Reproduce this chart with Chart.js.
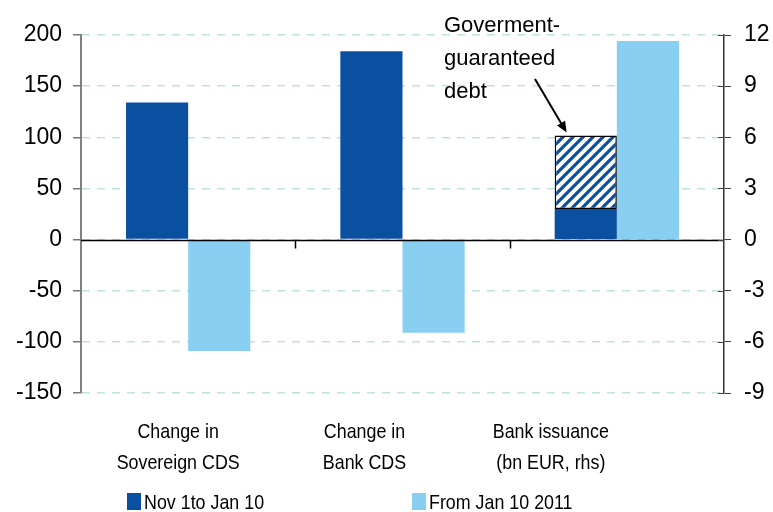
<!DOCTYPE html>
<html>
<head>
<meta charset="utf-8">
<script src="https://cdn.jsdelivr.net/npm/chart.js@4.4.1/dist/chart.umd.min.js"></script>
<style>
  html, body { margin: 0; padding: 0; background: #fff; }
</style>
</head>
<body>
<canvas id="myChart" width="773" height="512"></canvas>
<script>
// data
const categories = [['Change in', 'Sovereign CDS'], ['Change in', 'Bank CDS'], ['Bank issuance', '(bn EUR, rhs)']];
const seriesNames = ['Nov 1to Jan 10', 'From Jan 10 2011'];
const earlyCds = [134, 184, null];          // lhs
const lateCds = [-109, -91, null];          // lhs
const earlyIssuance = [null, null, 1.8];    // rhs
const guaranteedIssuance = [null, null, 4.3]; // rhs, stacked on top of earlyIssuance
const lateIssuance = [null, null, 11.65];   // rhs
const leftTicks = [-150, -100, -50, 0, 50, 100, 150, 200];
const rightTicks = [-9, -6, -3, 0, 3, 6, 9, 12];
const noteLines = ['Goverment-', 'guaranteed', 'debt'];

const darkBlue = '#0b4fa1';
const lightBlue = '#89cff1';
const plainFont = "'Liberation Sans', Arial, sans-serif";
const squeeze = 0.85; // the original labels are set in a condensed face

// hatch for the government-guaranteed part
const makeHatch = () => {
    const c = document.createElement('canvas');
    c.width = 10;
    c.height = 10;
    const g = c.getContext('2d');
    g.fillStyle = '#fff';
    g.fillRect(0, 0, 10, 10);
    g.strokeStyle = darkBlue;
    g.lineWidth = 3.2;
    g.beginPath();
    g.moveTo(-5, 15); g.lineTo(15, -5);
    g.moveTo(-5, 5); g.lineTo(5, -5);
    g.moveTo(5, 15); g.lineTo(15, 5);
    g.stroke();
    return g.createPattern(c, 'repeat');
};

const narrowText = (ctx, text, x, y) => {
    ctx.save();
    ctx.scale(squeeze, 1);
    ctx.fillText(text, x / squeeze, y);
    ctx.restore();
};

const extrasPlugin = {
    id: 'extras',
    afterDatasetsDraw(chart) {
        const ctx = chart.ctx;
        const area = chart.chartArea;
        const x = chart.scales.x;
        const y = chart.scales.y;
        const y2 = chart.scales.y2;
        const zero = Math.round(y.getPixelForValue(0)) + 0.5;
        ctx.save();
        // zero line with category separators
        ctx.strokeStyle = '#000';
        ctx.lineWidth = 1.5;
        ctx.beginPath();
        ctx.moveTo(area.left, zero);
        ctx.lineTo(area.right, zero);
        const step = x.getPixelForValue(1) - x.getPixelForValue(0);
        for (let i = 0; i < categories.length - 1; i++) {
            const bx = Math.round(x.getPixelForValue(i) + step / 2) + 0.5;
            ctx.moveTo(bx, zero);
            ctx.lineTo(bx, zero + 8);
        }
        ctx.stroke();

        // right axis ticks also poke inside
        ctx.strokeStyle = '#444';
        ctx.lineWidth = 1;
        ctx.beginPath();
        rightTicks.forEach(v => {
            const ty = Math.round(y2.getPixelForValue(v)) + 0.5;
            ctx.moveTo(area.right - 6, ty);
            ctx.lineTo(area.right, ty);
        });
        ctx.stroke();

        // category labels (they sit left of the bar groups in the original)
        const labelShift = [-10, -38, -66];
        ctx.fillStyle = '#000';
        ctx.font = '21px ' + plainFont;
        ctx.textAlign = 'center';
        ctx.textBaseline = 'alphabetic';
        categories.forEach((lines, i) => {
            const cx = x.getPixelForValue(i) + labelShift[i];
            lines.forEach((t, j) => narrowText(ctx, t, cx, 438 + j * 31));
        });

        // legend
        const legendX = [127, 412];
        ctx.textAlign = 'left';
        seriesNames.forEach((name, i) => {
            ctx.fillStyle = i === 0 ? darkBlue : lightBlue;
            ctx.fillRect(legendX[i], 493, 14, 17);
            ctx.fillStyle = '#000';
            narrowText(ctx, name, legendX[i] + 17, 509);
        });

        // annotation with arrow to the hatched block
        ctx.font = '22px ' + plainFont;
        noteLines.forEach((t, j) => ctx.fillText(t, 444, 32 + j * 33));
        const bar = chart.getDatasetMeta(3).data[2];
        const tipX = bar.x - bar.width / 2 + 12;
        const tipY = bar.y - 3;
        const fromX = 535, fromY = 79;
        const ang = Math.atan2(tipY - fromY, tipX - fromX);
        ctx.strokeStyle = '#000';
        ctx.lineWidth = 2;
        ctx.beginPath();
        ctx.moveTo(fromX, fromY);
        ctx.lineTo(tipX - 8 * Math.cos(ang), tipY - 8 * Math.sin(ang));
        ctx.stroke();
        ctx.beginPath();
        ctx.moveTo(tipX, tipY);
        ctx.lineTo(tipX - 12 * Math.cos(ang - 0.4), tipY - 12 * Math.sin(ang - 0.4));
        ctx.lineTo(tipX - 12 * Math.cos(ang + 0.4), tipY - 12 * Math.sin(ang + 0.4));
        ctx.closePath();
        ctx.fillStyle = '#000';
        ctx.fill();
        ctx.restore();
    }
};

const ctx = document.getElementById('myChart').getContext('2d');
new Chart(ctx, {
    type: 'bar',
    data: {
        labels: categories,
        datasets: [
            { label: seriesNames[0], data: earlyCds, yAxisID: 'y', stack: 'a', backgroundColor: darkBlue },
            { label: seriesNames[1], data: lateCds, yAxisID: 'y', stack: 'b', backgroundColor: lightBlue },
            { label: seriesNames[0], data: earlyIssuance, yAxisID: 'y2', stack: 'a', backgroundColor: darkBlue },
            { label: 'Goverment-guaranteed debt', data: guaranteedIssuance, yAxisID: 'y2', stack: 'a',
              backgroundColor: makeHatch(), borderColor: '#000', borderWidth: 1.5, borderSkipped: false },
            { label: seriesNames[1], data: lateIssuance, yAxisID: 'y2', stack: 'b', backgroundColor: lightBlue }
        ]
    },
    options: {
        responsive: false,
        animation: false,
        events: [],
        layout: { padding: { top: 35, left: 0, right: 0, bottom: 0 } },
        datasets: { bar: { categoryPercentage: 0.58, barPercentage: 1 } },
        plugins: { legend: { display: false }, tooltip: { enabled: false } },
        scales: {
            x: {
                grid: { display: false },
                border: { display: false },
                ticks: { display: false },
                afterFit: s => { s.height = 119; }
            },
            y: {
                position: 'left',
                stacked: true,
                min: -150,
                max: 200,
                afterBuildTicks: s => { s.ticks = leftTicks.map(v => ({ value: v })); },
                grid: { color: '#bfe2db', lineWidth: 1.5, tickColor: '#777', tickLength: 8 },
                border: { color: '#808080', width: 2, dash: [8, 7] },
                ticks: { color: '#000', padding: 11, font: { family: plainFont, size: 23 } },
                afterFit: s => { s.width = 81; }
            },
            y2: {
                position: 'right',
                stacked: true,
                min: -9,
                max: 12,
                afterBuildTicks: s => { s.ticks = rightTicks.map(v => ({ value: v })); },
                grid: { drawOnChartArea: false, tickColor: '#444', tickLength: 7 },
                border: { color: '#333', width: 1.5 },
                ticks: { color: '#000', padding: 13, font: { family: plainFont, size: 23 } },
                afterFit: s => { s.width = 49; }
            }
        }
    },
    plugins: [extrasPlugin]
});
</script>
</body>
</html>
